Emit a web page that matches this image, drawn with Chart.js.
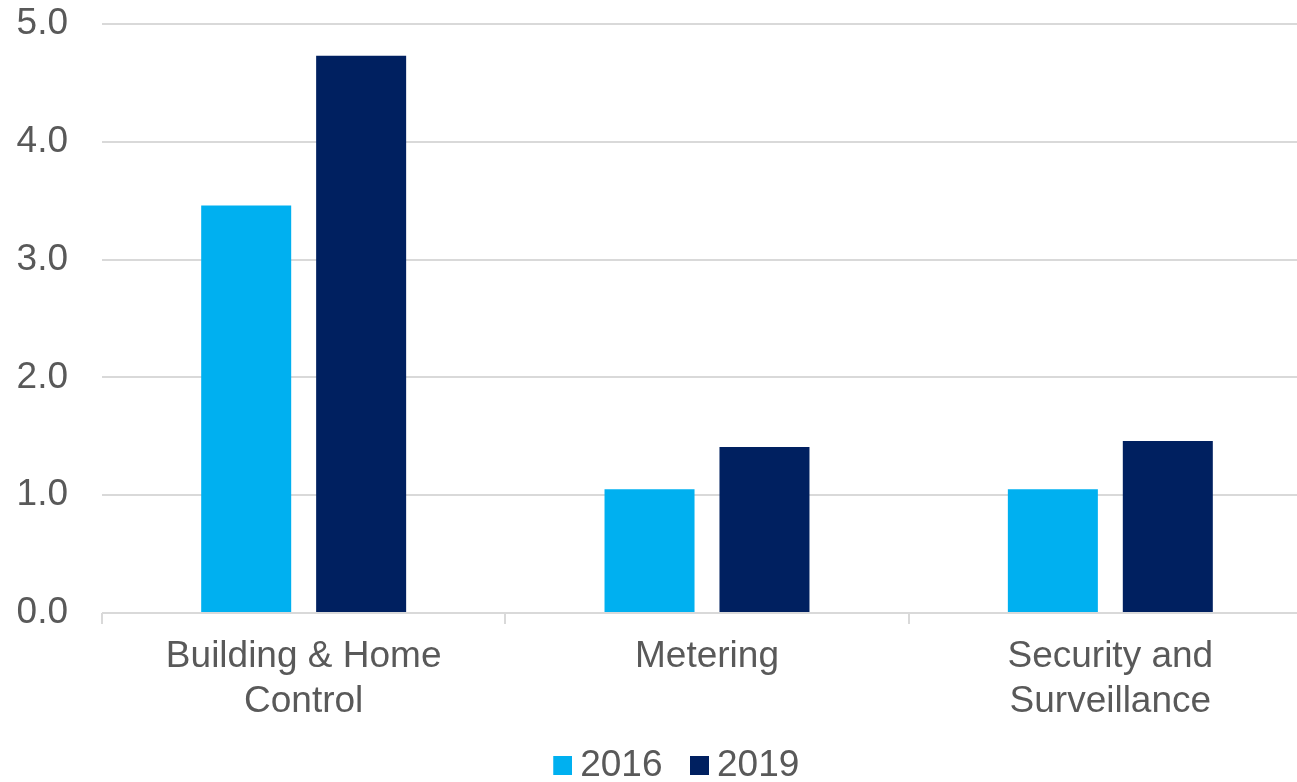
<!DOCTYPE html>
<html>
<head>
<meta charset="utf-8">
<script src="https://cdn.jsdelivr.net/npm/chart.js@4"></script>
<style>
	html, body { margin: 0; padding: 0; background: #fff; overflow: hidden; }
	#wrap { width: 1312px; height: 794px; }
</style>
</head>
<body>
<div id="wrap"><canvas id="chart"></canvas></div>
<script>
const categories = [["Building & Home", "Control"], "Metering", ["Security and", "Surveillance"]];
const seriesLabels = ["2016", "2019"];
const values2016 = [3.46, 1.05, 1.05];
const values2019 = [4.73, 1.41, 1.46];
const yTicks = [0, 1, 2, 3, 4, 5];

const seriesColors = ["#00b0f0", "#002060"];
const textColor = "#595959";
const gridColor = "#d9d9d9";
const fontFamily = "'Liberation Sans', Arial, sans-serif";
const fontSize = 37;

// legend swatch: square sits at the right of a wider transparent image,
// so the gap to the text is smaller than Chart.js' default
function makeSwatch(color) {
	const c = document.createElement("canvas");
	c.width = 40;
	c.height = 19;
	const g = c.getContext("2d");
	g.fillStyle = color;
	g.fillRect(21, 0, 19, 19);
	return c;
}

const legendShift = {
	id: "legendShift",
	afterLayout(chart) {
		chart.legend.left += 30;
	},
};

const ctx = document.getElementById("chart").getContext("2d");
new Chart(ctx, {
	type: "bar",
	data: {
		labels: categories,
		datasets: [
			{
				label: seriesLabels[0],
				data: values2016,
				backgroundColor: seriesColors[0],
			},
			{
				label: seriesLabels[1],
				data: values2019,
				backgroundColor: seriesColors[1],
			},
		],
	},
	plugins: [legendShift],
	options: {
		responsive: true,
		maintainAspectRatio: false,
		animation: false,
		categoryPercentage: 0.57,
		barPercentage: 0.783,
		layout: { padding: { left: 0, top: 24, right: 0, bottom: 0 } },
		plugins: {
			tooltip: { enabled: false },
			legend: {
				position: "bottom",
				labels: {
					color: textColor,
					font: { family: fontFamily, size: fontSize },
					usePointStyle: true,
					pointStyleWidth: 19,
					boxWidth: 19,
					boxHeight: 19,
					padding: 17,
					generateLabels: (chart) =>
						chart.data.datasets.map((ds, i) => ({
							text: ds.label,
							fillStyle: ds.backgroundColor,
							strokeStyle: ds.backgroundColor,
							lineWidth: 0,
							pointStyle: makeSwatch(ds.backgroundColor),
							fontColor: textColor,
							hidden: false,
							datasetIndex: i,
						})),
				},
			},
		},
		scales: {
			x: {
				grid: {
					display: true,
					drawOnChartArea: false,
					offset: true,
					tickLength: 11,
					color: gridColor,
					lineWidth: 2,
				},
				border: { display: false },
				ticks: {
					color: textColor,
					font: { family: fontFamily, size: fontSize },
					maxRotation: 0,
					autoSkip: false,
					padding: 11,
				},
				afterFit: (axis) => {
					axis.height = 117;
				},
			},
			y: {
				min: 0,
				max: 5,
				afterBuildTicks: (axis) => {
					axis.ticks = yTicks.map((v) => ({ value: v }));
				},
				grid: {
					color: gridColor,
					lineWidth: 2,
					drawTicks: false,
				},
				border: { display: false },
				ticks: {
					color: textColor,
					font: { family: fontFamily, size: fontSize },
					padding: 34,
					callback: function (value) {
						return value.toFixed(1);
					},
				},
				afterFit: (axis) => {
					axis.width = 102;
					axis.paddingTop = 0;
					axis.paddingBottom = 0;
				},
			},
		},
	},
});
</script>
</body>
</html>
